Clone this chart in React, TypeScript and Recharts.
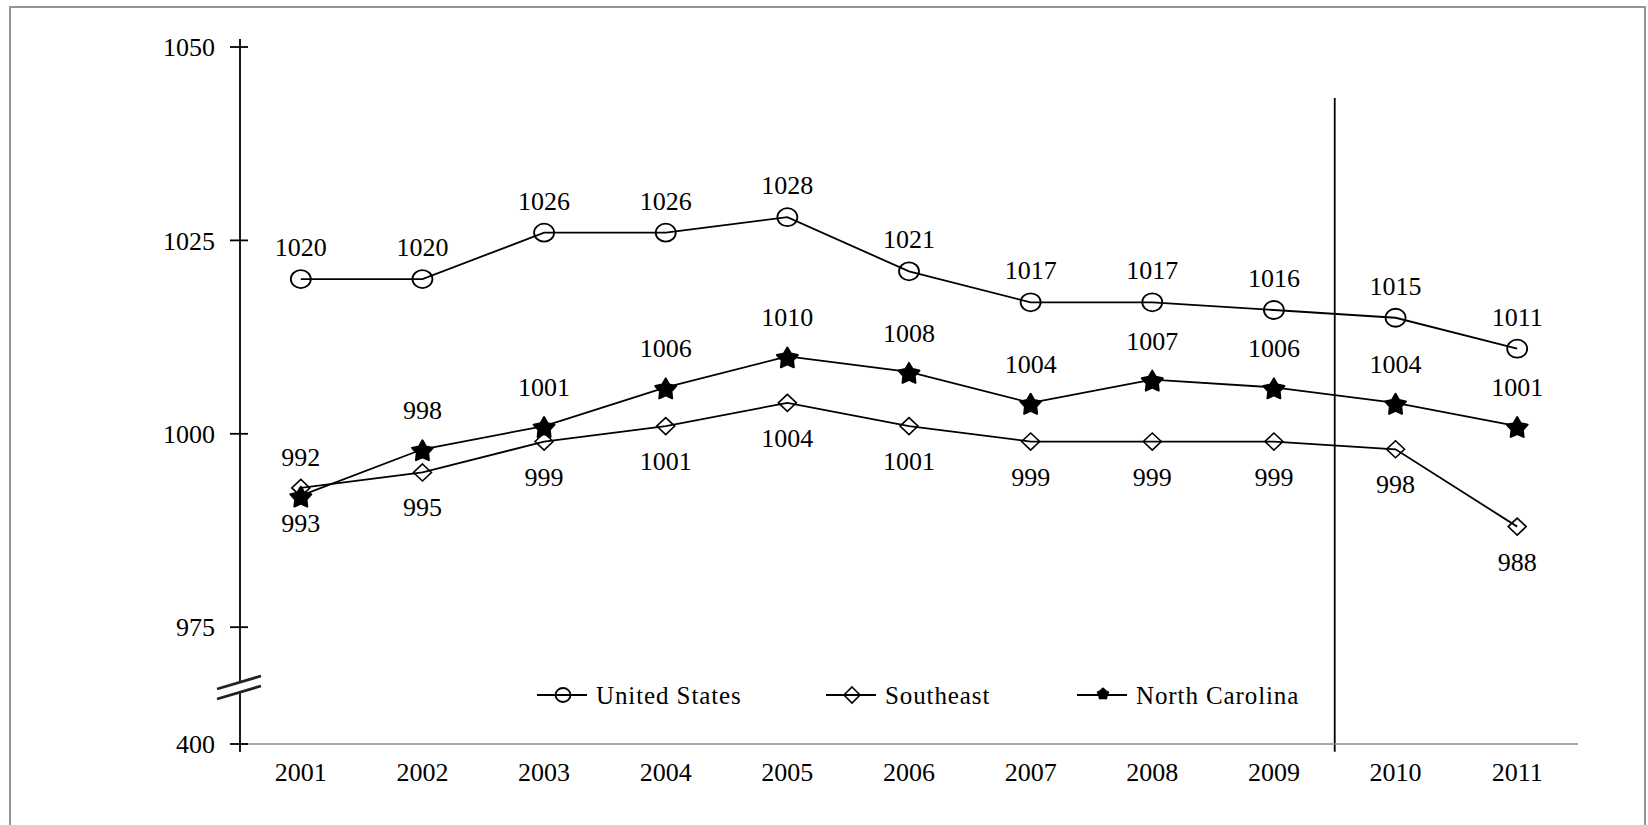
import React from 'react';
import { LineChart, Line, XAxis, YAxis, ReferenceLine, Legend } from 'recharts';

const years = ['2001', '2002', '2003', '2004', '2005', '2006', '2007', '2008', '2009', '2010', '2011'];
const unitedStates = [1020, 1020, 1026, 1026, 1028, 1021, 1017, 1017, 1016, 1015, 1011];
const southeast = [993, 995, 999, 1001, 1004, 1001, 999, 999, 999, 998, 988];
const northCarolina = [992, 998, 1001, 1006, 1010, 1008, 1004, 1007, 1006, 1004, 1001];
// The axis is broken: the bottom tick (labelled 400) sits at an internal value just below 975.
const yTickValues = [959.9, 975, 1000, 1025, 1050];
const yTickLabels = ['400', '975', '1000', '1025', '1050'];
const seriesNames = ['United States', 'Southeast', 'North Carolina'];
const dividerAfterYear = '2009';

const FONT = "'Liberation Serif', 'Times New Roman', serif";

const data = years.map((year, i) => ({
  pos: i + 1,
  year,
  us: unitedStates[i],
  se: southeast[i],
  nc: northCarolina[i],
}));

const labelTicks = data.map((d) => d.pos);
const boundaryTicks = [0.5, ...data.map((d) => d.pos + 0.5)];
const dividerPos = years.indexOf(dividerAfterYear) + 1.5;

function CircleMark({ cx, cy, rx = 10, ry = 9 }: any) {
  return <ellipse cx={cx} cy={cy} rx={rx} ry={ry} fill="none" stroke="#000" strokeWidth={1.8} />;
}
function DiamondMark({ cx, cy, w = 9, h = 8.5 }: any) {
  return (
    <polygon
      points={`${cx},${cy - h} ${cx + w},${cy} ${cx},${cy + h} ${cx - w},${cy}`}
      fill="none"
      stroke="#000"
      strokeWidth={1.6}
    />
  );
}
function StarMark({ cx, cy, ro = 11, ri = 6 }: any) {
  const pts: string[] = [];
  const c = cy + 2;
  for (let k = 0; k < 10; k++) {
    const r = k % 2 === 0 ? ro : ri;
    const a = -Math.PI / 2 + (k * Math.PI) / 5;
    pts.push(`${cx + r * Math.cos(a)},${c + r * Math.sin(a)}`);
  }
  return <polygon points={pts.join(' ')} fill="#000" stroke="#000" strokeWidth={2} strokeLinejoin="round" />;
}

const makeLabel = (dy: number) => (p: any) => (
  <text
    key={`l-${p.index}`}
    x={p.x}
    y={p.y + dy}
    textAnchor="middle"
    fontSize={26}
    fontFamily={FONT}
    fill="#000"
  >
    {p.value}
  </text>
);

function YTick(props: any) {
  const { x, y, payload } = props;
  const i = yTickValues.indexOf(payload.value);
  const ax = x + 25;
  return (
    <g>
      <line x1={ax} x2={ax + 8} y1={y} y2={y} stroke="#000" strokeWidth={1.8} />
      {i === yTickValues.length - 1 && <line x1={ax} x2={ax} y1={y - 8} y2={y} stroke="#000" strokeWidth={1.8} />}
      {i === 0 && (
        <g>
          <line x1={ax} x2={ax} y1={y} y2={y + 8} stroke="#000" strokeWidth={1.8} />
          <polygon
            points={`${ax - 23},${y - 55} ${ax + 21},${y - 68} ${ax + 21},${y - 57} ${ax - 23},${y - 44}`}
            fill="#fff"
            stroke="none"
          />
          <line x1={ax - 23} y1={y - 55} x2={ax + 21} y2={y - 68} stroke="#222" strokeWidth={2.8} />
          <line x1={ax - 23} y1={y - 45} x2={ax + 21} y2={y - 58} stroke="#222" strokeWidth={2.8} />
        </g>
      )}
      <text x={x} y={y} dy="0.355em" textAnchor="end" fontSize={26} fontFamily={FONT} fill="#000">
        {yTickLabels[i]}
      </text>
    </g>
  );
}

// legend item starts relative to the legend box (left = 530)
const legendStarts = [7, 296, 547];
function renderLegend() {
  return (
    <svg width={800} height={40} style={{ overflow: 'visible' }}>
      {seriesNames.map((name, i) => {
        const s = legendStarts[i];
        const mx = s + 26;
        return (
          <g key={name}>
            <line x1={s} x2={s + 50} y1={20} y2={20} stroke="#000" strokeWidth={1.8} />
            {i === 0 && <CircleMark cx={mx} cy={20} rx={7.5} ry={7} />}
            {i === 1 && <DiamondMark cx={mx} cy={20} w={8} h={8} />}
            {i === 2 && <StarMark cx={mx} cy={17} ro={5.5} ri={4} />}
            <text
              x={s + 59}
              y={20}
              dy="0.35em"
              fontSize={25}
              fontFamily={FONT}
              letterSpacing={0.9}
              fill="#000"
            >
              {name}
            </text>
          </g>
        );
      })}
    </svg>
  );
}

export default function App() {
  return (
    <div style={{ position: 'absolute', left: 0, top: 0, width: 1648, height: 825, overflow: 'hidden', background: '#fff' }}>
      <div
        style={{
          position: 'absolute',
          left: 9,
          top: 6,
          width: 1637,
          height: 860,
          border: '2px solid #959595',
          boxSizing: 'border-box',
        }}
      />
      <div style={{ position: 'absolute', left: 0, top: 0 }}>
        <LineChart width={1648} height={825} data={data} margin={{ top: 47, right: 70, bottom: 79, left: 180 }}>
          <XAxis
            xAxisId="b"
            type="number"
            domain={[0.5, years.length + 0.5]}
            ticks={boundaryTicks}
            interval={0}
            tick={false}
            tickSize={7}
            tickLine={{ stroke: '#8c8c8c', strokeWidth: 1.6 }}
            axisLine={{ stroke: '#8c8c8c', strokeWidth: 1.6 }}
            height={1}
          />
          <XAxis
            xAxisId="lbl"
            type="number"
            dataKey="pos"
            domain={[0.5, years.length + 0.5]}
            ticks={labelTicks}
            interval={0}
            tickFormatter={(v: number) => years[v - 1]}
            axisLine={false}
            tickLine={false}
            tickSize={0}
            tickMargin={18}
            height={1}
            tick={{ fill: '#000', fontSize: 26, fontFamily: FONT }}
          />
          <YAxis
            type="number"
            domain={[yTickValues[0], yTickValues[yTickValues.length - 1]]}
            ticks={yTickValues}
            interval={0}
            width={60}
            tickSize={10}
            tickMargin={15}
            axisLine={{ stroke: '#000', strokeWidth: 1.8 }}
            tickLine={{ stroke: '#000', strokeWidth: 1.8 }}
            tick={(p: any) => <YTick {...p} />}
          />
          <ReferenceLine
            xAxisId="lbl"
            segment={[
              { x: dividerPos, y: 1043.4 },
              { x: dividerPos, y: 958.9 },
            ]}
            ifOverflow="visible"
            stroke="#000"
            strokeWidth={1.8}
          />
          <Legend
            layout="horizontal"
            verticalAlign="middle"
            align="center"
            wrapperStyle={{ left: 530, top: 675, width: 800, height: 40 }}
            content={renderLegend}
          />
          <Line
            xAxisId="lbl"
            dataKey="us"
            name={seriesNames[0]}
            stroke="#000"
            strokeWidth={1.8}
            isAnimationActive={false}
            dot={(p: any) => <CircleMark key={`c-${p.index}`} cx={p.cx} cy={p.cy} />}
            label={makeLabel(-23)}
          />
          <Line
            xAxisId="lbl"
            dataKey="se"
            name={seriesNames[1]}
            stroke="#000"
            strokeWidth={1.8}
            isAnimationActive={false}
            dot={(p: any) => <DiamondMark key={`d-${p.index}`} cx={p.cx} cy={p.cy} />}
            label={makeLabel(44)}
          />
          <Line
            xAxisId="lbl"
            dataKey="nc"
            name={seriesNames[2]}
            stroke="#000"
            strokeWidth={1.8}
            isAnimationActive={false}
            dot={(p: any) => <StarMark key={`s-${p.index}`} cx={p.cx} cy={p.cy} />}
            label={makeLabel(-30)}
          />
        </LineChart>
      </div>
    </div>
  );
}
